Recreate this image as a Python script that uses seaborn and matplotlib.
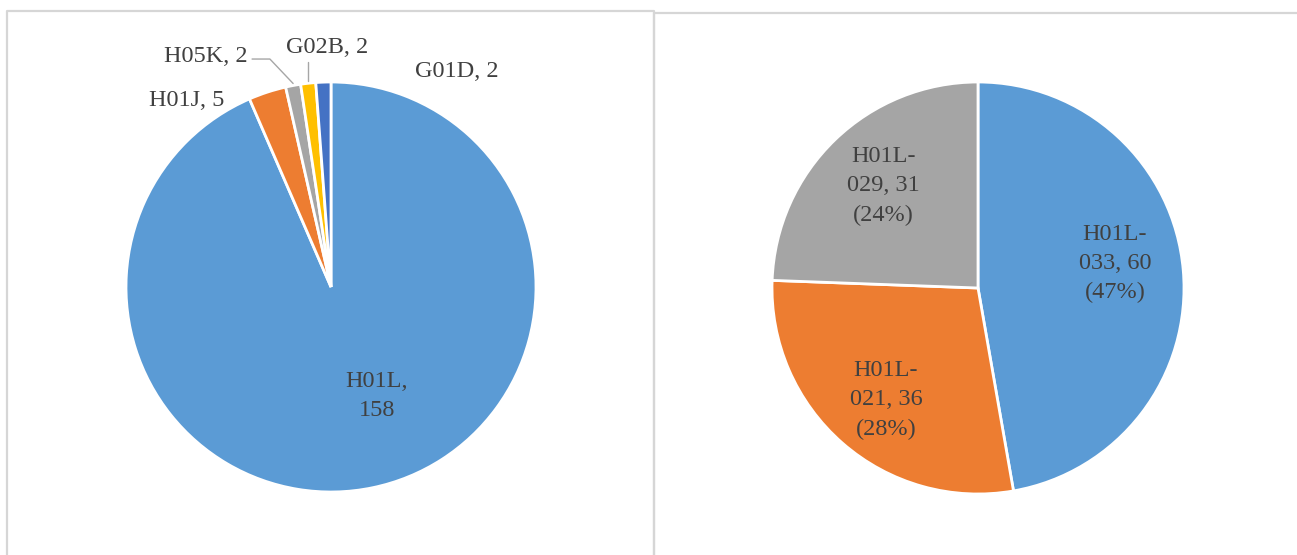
import numpy as np
import seaborn as sns
import matplotlib.pyplot as plt
from matplotlib.lines import Line2D

# %% data
left_labels = ['H01L', 'H01J', 'H05K', 'G02B', 'G01D']
left_values = [158, 5, 2, 2, 2]

right_labels = ['H01L-033', 'H01L-021', 'H01L-029']
right_values = [60, 36, 31]

# %% style
sns.set_theme(style='white')
plt.rcParams['font.family'] = ['Liberation Serif', 'DejaVu Serif']

excel_colors = ['#5B9BD5', '#ED7D31', '#A5A5A5', '#FFC000', '#4472C4']
text_color = '#404040'
border_color = '#d6d6d6'
fs = 17.5

W, H = 1297, 555
fig = plt.figure(figsize=(W / 100, H / 100), dpi=100)
fig.patch.set_facecolor('white')


def px_axes(cx, cy, r):
    # axes box in figure fractions from a pixel centre and radius
    return [(cx - r) / W, (H - cy - r) / H, 2 * r / W, 2 * r / H]


def mid_angles(values):
    # mid angle of each wedge (deg, clockwise from 12 o'clock)
    v = np.asarray(values, dtype=float)
    cum = np.cumsum(v) / v.sum() * 360
    return cum - v / v.sum() * 180


# %% panel borders
for xs, ys in [([7, 7, 654, 654], [H + 5, 11, 11, H + 5]),
               ([654, 654, W + 5], [H + 5, 13, 13])]:
    fig.add_artist(Line2D(np.array(xs) / W, 1 - np.array(ys) / H,
                          transform=fig.transFigure, color=border_color, lw=1.6))

# %% left pie
ax1 = fig.add_axes(px_axes(331, 287, 205))
ax1.pie(left_values, colors=excel_colors[:len(left_values)], startangle=90,
        counterclock=False, wedgeprops=dict(edgecolor='white', linewidth=2))
ax1.set_xlim(-1, 1)
ax1.set_ylim(-1, 1)
ax1.set_aspect('equal')
ax1.axis('off')

left_text_pos = [(0.224, -0.53, 'center'),
                 (-0.522, 0.912, 'right'),
                 (-0.405, 1.122, 'right'),
                 (-0.02, 1.17, 'center'),
                 (0.615, 1.049, 'center')]
for i, (name, val) in enumerate(zip(left_labels, left_values)):
    x, y, ha = left_text_pos[i]
    txt = f'{name},\n{val}' if i == 0 else f'{name}, {val}'
    ax1.text(x, y, txt, ha=ha, va='center', fontsize=fs, color=text_color,
             linespacing=1.5, clip_on=False)

# leader lines for the two thin slices in the middle
ang = np.deg2rad(mid_angles(left_values))
ex, ey = np.sin(ang), np.cos(ang)
ax1.plot([-0.385, -0.298, ex[2]], [1.112, 1.112, ey[2] + 0.01],
         color='#a6a6a6', lw=1, clip_on=False)
ax1.plot([ex[3], ex[3]], [1.098, ey[3] + 0.01],
         color='#a6a6a6', lw=1, clip_on=False)

# %% right pie
ax2 = fig.add_axes(px_axes(978, 288, 206))
ax2.pie(right_values, colors=excel_colors[:len(right_values)], startangle=90,
        counterclock=False, wedgeprops=dict(edgecolor='white', linewidth=2))
ax2.set_xlim(-1, 1)
ax2.set_ylim(-1, 1)
ax2.set_aspect('equal')
ax2.axis('off')

total = sum(right_values)
right_text_pos = [(0.665, 0.117), (-0.447, -0.544), (-0.461, 0.495)]
for (x, y), name, val in zip(right_text_pos, right_labels, right_values):
    head, tail = name.split('-')
    txt = f'{head}-\n{tail}, {val}\n({round(val / total * 100)}%)'
    ax2.text(x, y, txt, ha='center', va='center', fontsize=fs, color=text_color,
             linespacing=1.5, clip_on=False)

fig.savefig('out.png', dpi=100, facecolor='white')
